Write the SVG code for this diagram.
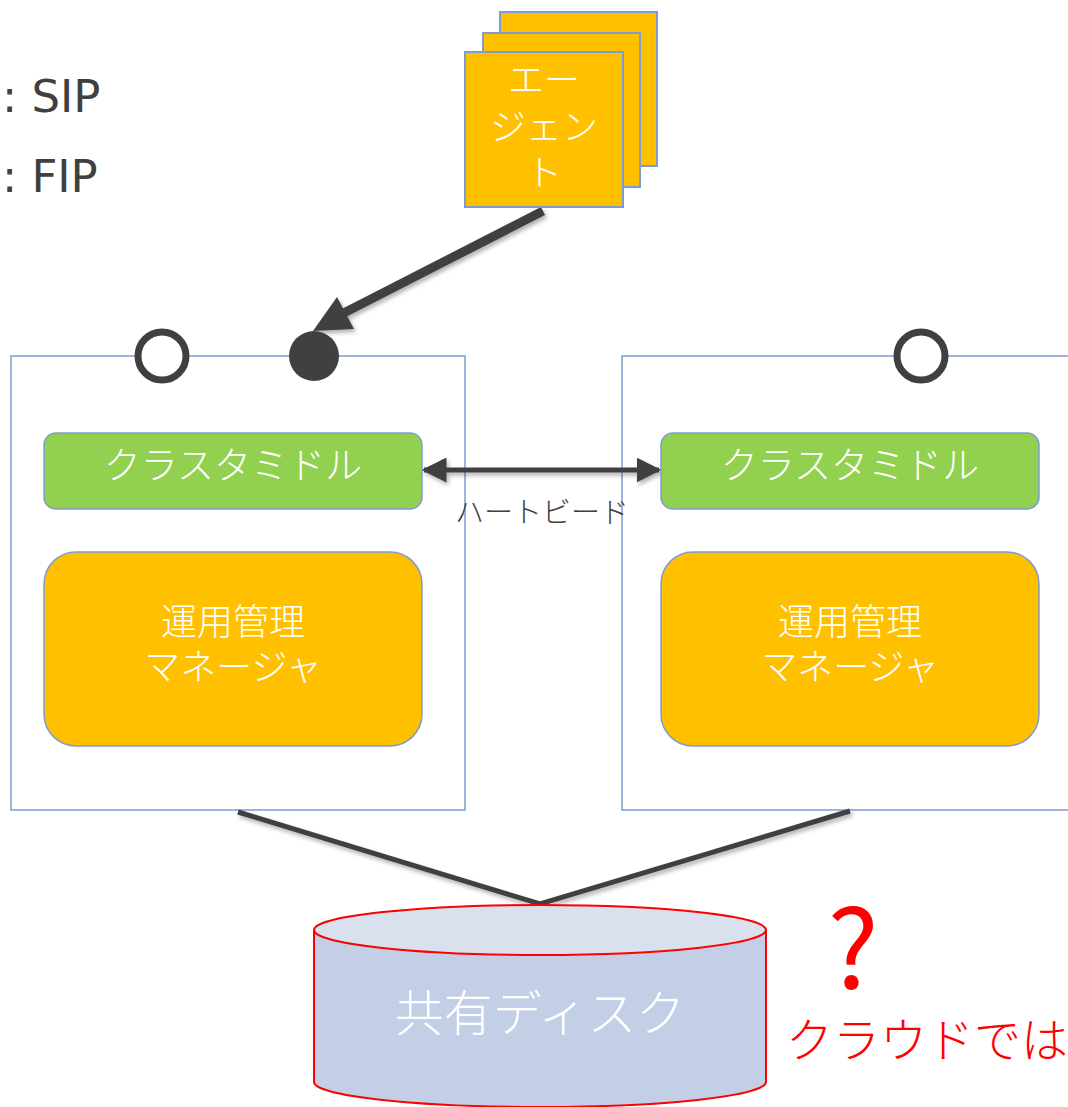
<svg xmlns="http://www.w3.org/2000/svg" width="1068" height="1107" viewBox="0 0 1068 1107">
  <style>
    text { font-family: "Noto Sans CJK JP", "Noto Sans", sans-serif; }
    .server { fill: #FFFFFF; stroke: #7F9BD4; stroke-width: 1.5; }
    .mid { fill: #92D050; stroke: #7F9BD4; stroke-width: 1.5; }
    .mgr { fill: #FFC000; stroke: #7F9BD4; stroke-width: 1.5; }
    .agent { fill: #FFC000; stroke: #7F9BD4; stroke-width: 2; }
    .wlabel { fill: #FFFFFF; text-anchor: middle; font-weight: 300; }
    .ipopen { fill: #FFFFFF; stroke: #404040; stroke-width: 7; }
    .ipfill { fill: #404040; }
    .conn { stroke: #404040; fill: none; }
    .legend { fill: #404040; font-family: "DejaVu Sans", "Noto Sans", sans-serif; font-size: 45px; }
  </style>
  <defs>
    <marker id="hb" viewBox="0 0 10 10" refX="9" refY="5" markerWidth="5" markerHeight="5" orient="auto-start-reverse" markerUnits="strokeWidth">
      <path d="M0,0 L10,5 L0,10 z" fill="#404040"/>
    </marker>
    <filter id="sh" filterUnits="userSpaceOnUse" x="0" y="0" width="1068" height="1107">
      <feDropShadow dx="2" dy="3" stdDeviation="2" flood-color="#000" flood-opacity="0.3"/>
    </filter>
  </defs>

  <g id="legend">
    <text class="legend" x="2" y="112">: SIP</text>
    <text class="legend" x="2" y="192">: FIP</text>
  </g>

  <g id="server-left">
    <rect class="server" x="11" y="356" width="454" height="454"/>
  </g>
  <g id="server-right">
    <rect class="server" x="622" y="356" width="460" height="454"/>
  </g>

  <g id="connectors" filter="url(#sh)">
    <!-- agent to floating IP -->
    <line class="conn" x1="543" y1="211" x2="334" y2="318" stroke-width="9"/>
    <polygon points="313,331 337,297 354,329" fill="#404040"/>
    <!-- heartbeat -->
    <line class="conn" x1="424" y1="470" x2="659" y2="470" stroke-width="5" marker-start="url(#hb)" marker-end="url(#hb)"/>
    <!-- servers to shared disk -->
    <polyline class="conn" points="238,812 540,904 850,811" stroke-width="5"/>
  </g>

  <g id="heartbeat-label">
    <text x="542" y="523" text-anchor="middle" font-size="29" fill="#404040" font-weight="300">ハートビード</text>
  </g>

  <g id="sip-left">
    <circle class="ipopen" cx="162" cy="356" r="24"/>
  </g>
  <g id="fip-left">
    <circle class="ipfill" cx="314" cy="356" r="25"/>
  </g>
  <g id="sip-right">
    <circle class="ipopen" cx="921" cy="356" r="24"/>
  </g>

  <g id="middleware-left">
    <rect class="mid" x="44" y="433" width="378" height="76" rx="12"/>
    <text class="wlabel" x="233" y="479" font-size="37">クラスタミドル</text>
  </g>
  <g id="middleware-right">
    <rect class="mid" x="661" y="433" width="378" height="76" rx="12"/>
    <text class="wlabel" x="850" y="479" font-size="37">クラスタミドル</text>
  </g>

  <g id="manager-left">
    <rect class="mgr" x="44" y="552" width="378" height="194" rx="32"/>
    <text class="wlabel" x="233" y="635" font-size="36">運用管理</text>
    <text class="wlabel" x="233" y="680" font-size="36">マネージャ</text>
  </g>
  <g id="manager-right">
    <rect class="mgr" x="661" y="552" width="378" height="194" rx="32"/>
    <text class="wlabel" x="850" y="635" font-size="36">運用管理</text>
    <text class="wlabel" x="850" y="680" font-size="36">マネージャ</text>
  </g>

  <g id="agent">
    <rect class="agent" x="500" y="12" width="157" height="154"/>
    <rect class="agent" x="483" y="33" width="157" height="154"/>
    <rect class="agent" x="465" y="52" width="158" height="155"/>
    <text class="wlabel" x="544" y="93" font-size="36">エー</text>
    <text class="wlabel" x="544" y="140" font-size="36">ジェン</text>
    <text class="wlabel" x="544" y="186" font-size="36">ト</text>
  </g>

  <g id="shared-disk">
    <path d="M314,930 L314,1082 A226,25 0 0 0 766,1082 L766,930 Z" fill="#C3CFE6" stroke="#FF0000" stroke-width="2"/>
    <ellipse cx="540" cy="930" rx="226" ry="25" fill="#D9E0EE" stroke="#FF0000" stroke-width="2"/>
    <text class="wlabel" x="540" y="1031" font-size="49">共有ディスク</text>
  </g>

  <g id="cloud-note">
    <text x="853" y="989" text-anchor="middle" font-size="108" fill="#FF0000" font-family="Liberation Sans, sans-serif">?</text>
    <text x="786" y="1057" font-size="47" fill="#FF0000" font-weight="300">クラウドでは</text>
  </g>
</svg>
